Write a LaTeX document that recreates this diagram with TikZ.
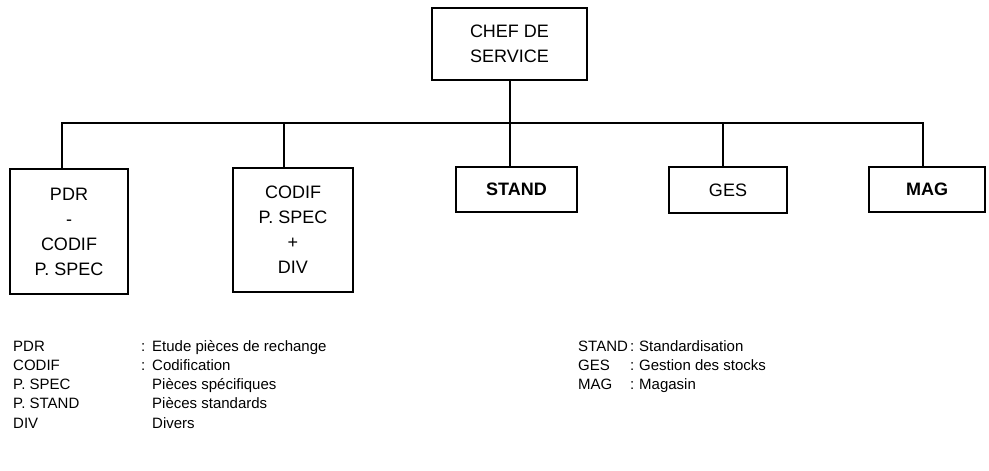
\documentclass[tikz,border=0pt]{standalone}
\usepackage{fontspec}
\setmainfont{Liberation Sans}
\begin{document}
\begin{tikzpicture}[x=1pt,y=-1pt,
  box/.style={draw=black,line width=1.8pt,rectangle,inner sep=0pt,align=center,font=\fontsize{18}{25}\selectfont},
  boldbox/.style={box,font=\fontsize{18}{25}\selectfont\bfseries},
  conn/.style={draw=black,line width=1.8pt},
  leg/.style={anchor=base west,inner sep=0pt,font=\fontsize{15}{18}\selectfont}]
\useasboundingbox (0,0) rectangle (989,471);
% boxes
\node[box,minimum width=155pt,minimum height=72pt] (chef) at (509.5,44) {CHEF DE\\SERVICE};
\node[box,minimum width=118pt,minimum height=125pt] (pdr) at (69,231.5) {PDR\\-\\CODIF\\P. SPEC};
\node[box,minimum width=120pt,minimum height=124pt] (codif) at (293,230) {CODIF\\P. SPEC\\+\\DIV};
\node[boldbox,minimum width=121pt,minimum height=45pt] (stand) at (516.5,189.5) {STAND};
\node[box,minimum width=118pt,minimum height=46pt] (ges) at (728,190) {GES};
\node[boldbox,minimum width=116pt,minimum height=45pt] (mag) at (927,189.5) {MAG};
% bus coordinates
\coordinate (b1) at (62,123);
\coordinate (b2) at (284,123);
\coordinate (b3) at (510,123);
\coordinate (b4) at (723,123);
\coordinate (b5) at (923,123);
\draw[conn] (chef.south -| b3) -- (b3);
\draw[conn] (b1 |- pdr.north) -- (b1) -- (b5) -- (b5 |- mag.north);
\draw[conn] (b2) -- (b2 |- codif.north);
\draw[conn] (b3) -- (b3 |- stand.north);
\draw[conn] (b4) -- (b4 |- ges.north);
% legend left
\node[leg] (a1) at (13,351) {PDR};
\node[leg] (c1) at (141,351) {:};
\node[leg] (d1) at (152,351) {Etude pièces de rechange};
\node[leg] (a2) at (13,370.3) {CODIF};
\node[leg] (c2) at (141,370.3) {:};
\node[leg] (d2) at (152,370.3) {Codification};
\node[leg] (a3) at (13,389.6) {P. SPEC};
\node[leg] (d3) at (152,389.6) {Pièces spécifiques};
\node[leg] (a4) at (13,408.9) {P. STAND};
\node[leg] (d4) at (152,408.9) {Pièces standards};
\node[leg] (a5) at (13,428.2) {DIV};
\node[leg] (d5) at (152,428.2) {Divers};
% legend right
\node[leg] (r1) at (578,351) {STAND};
\node[leg] (rc1) at (630,351) {:};
\node[leg] (rd1) at (639,351) {Standardisation};
\node[leg] (r2) at (578,370.3) {GES};
\node[leg] (rc2) at (630,370.3) {:};
\node[leg] (rd2) at (639,370.3) {Gestion des stocks};
\node[leg] (r3) at (578,389.6) {MAG};
\node[leg] (rc3) at (630,389.6) {:};
\node[leg] (rd3) at (639,389.6) {Magasin};
\end{tikzpicture}
\end{document}
